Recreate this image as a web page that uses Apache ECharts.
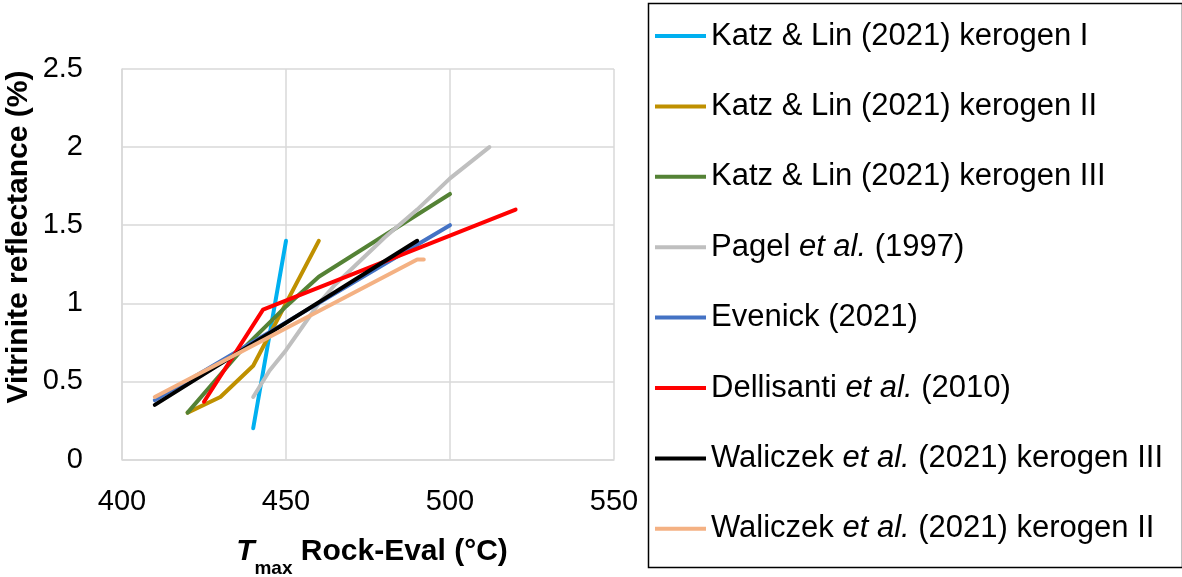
<!DOCTYPE html>
<html>
<head>
<meta charset="utf-8">
<script src="https://cdn.jsdelivr.net/npm/echarts@6/dist/echarts.min.js"></script>
<style>
html,body{margin:0;padding:0;background:#fff;}
#chart{width:1182px;height:577px;}
</style>
</head>
<body>
<div id="chart"></div>
<script>
// Tmax (°C) vs vitrinite reflectance (%)
const katzI = [[440, 0.2], [450, 1.4]];
const katzII = [[420, 0.3], [430, 0.4], [440, 0.6], [460, 1.4]];
const katzIII = [[420, 0.3], [436, 0.69], [450, 0.98], [460, 1.17], [500, 1.7]];
const pagel = [[440, 0.4], [445, 0.57], [450, 0.7], [455, 0.85], [460, 1.0], [465, 1.12], [470, 1.22], [480, 1.42], [490, 1.6], [500, 1.8], [512, 2.0]];
const evenick = [[410, 0.38], [500, 1.5]];
const dellisanti = [[425, 0.37], [443, 0.96], [520, 1.6]];
const waliczekIII = [[410, 0.35], [490, 1.4]];
const waliczekII = [[410, 0.4], [490, 1.28], [492, 1.28]];

const seriesNames = [
  'Katz & Lin (2021) kerogen I',
  'Katz & Lin (2021) kerogen II',
  'Katz & Lin (2021) kerogen III',
  'Pagel et al. (1997)',
  'Evenick (2021)',
  'Dellisanti et al. (2010)',
  'Waliczek et al. (2021) kerogen III',
  'Waliczek et al. (2021) kerogen II'
];
const seriesData = [katzI, katzII, katzIII, pagel, evenick, dellisanti, waliczekIII, waliczekII];
const seriesColors = ['#00B0F0', '#BF9000', '#548235', '#BFBFBF', '#4472C4', '#FF0000', '#000000', '#F4B183'];

const xTicks = {min: 400, max: 550, interval: 50};
const yTicks = {min: 0, max: 2.5, interval: 0.5};

const FONT = '"Liberation Sans", Arial, sans-serif';

const chart = echarts.init(document.getElementById('chart'), null, {renderer: 'canvas'});

const series = seriesNames.map((n, i) => ({
  name: n,
  type: 'line',
  data: seriesData[i],
  symbol: 'none',
  lineStyle: {width: 4, color: seriesColors[i], cap: 'round', join: 'round'},
  itemStyle: {color: seriesColors[i]},
  animation: false,
  z: 2
}));

function legendFmt(name) {
  const k = name.indexOf('et al.');
  if (k < 0) return '{n|' + name + '}';
  return '{n|' + name.slice(0, k) + '}{i|et al.}{n|' + name.slice(k + 6) + '}';
}

chart.setOption({
  animation: false,
  backgroundColor: '#fff',
  grid: {left: 122, right: 568, top: 69, bottom: 117.5, containLabel: false},
  xAxis: {
    type: 'value', min: xTicks.min, max: xTicks.max, interval: xTicks.interval,
    axisLine: {show: true, lineStyle: {color: '#D9D9D9', width: 1.5}},
    axisTick: {show: false},
    axisLabel: {color: '#000', fontSize: 29, fontFamily: FONT, margin: 28},
    splitLine: {show: true, lineStyle: {color: '#D9D9D9', width: 1.5}}
  },
  yAxis: {
    type: 'value', min: yTicks.min, max: yTicks.max, interval: yTicks.interval,
    axisLine: {show: true, lineStyle: {color: '#D9D9D9', width: 1.5}},
    axisTick: {show: false},
    axisLabel: {color: '#000', fontSize: 29, fontFamily: FONT, margin: 39},
    splitLine: {show: true, lineStyle: {color: '#D9D9D9', width: 1.5}}
  },
  legend: {
    orient: 'vertical',
    left: 655, top: 2.8,
    padding: 0,
    itemWidth: 51, itemHeight: 4, itemGap: 4,
    icon: 'rect',
    data: seriesNames,
    formatter: legendFmt,
    selectedMode: false,
    textStyle: {
      color: '#000', fontSize: 31, fontFamily: FONT, lineHeight: 66.4,
      rich: {
        n: {fontSize: 31, fontFamily: FONT, color: '#000', lineHeight: 66.4},
        i: {fontSize: 31, fontFamily: FONT, color: '#000', fontStyle: 'italic', lineHeight: 66.4}
      }
    }
  },
  graphic: [
    {
      type: 'rect', left: 646, top: 1, silent: true,
      shape: {width: 534, height: 564},
      style: {fill: 'none', stroke: '#000', lineWidth: 1.5}
    },
    {
      type: 'text', x: 19, y: 237, rotation: Math.PI / 2, silent: true,
      style: {
        text: 'Vitrinite reflectance (%)', fill: '#000',
        font: 'bold 30px ' + FONT, align: 'center', verticalAlign: 'middle'
      }
    },
    {
      type: 'text', x: 372, y: 552, silent: true,
      style: {
        text: '{t|T}{s|max}{r| Rock-Eval (°C)}',
        align: 'center', verticalAlign: 'middle', fill: '#000',
        rich: {
          t: {font: 'italic bold 30px ' + FONT, fill: '#000', lineHeight: 36, verticalAlign: 'middle'},
          s: {font: 'bold 19px ' + FONT, fill: '#000', lineHeight: 20, verticalAlign: 'bottom', padding: [0, 0, -8, 0]},
          r: {font: 'bold 30px ' + FONT, fill: '#000', lineHeight: 36, verticalAlign: 'middle'}
        }
      }
    }
  ],
  series: series
});
</script>
</body>
</html>
